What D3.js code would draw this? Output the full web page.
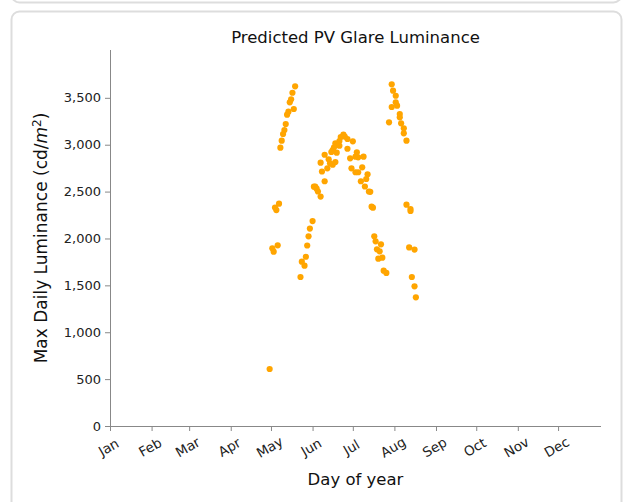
<!DOCTYPE html>
<html>
<head>
<meta charset="utf-8">
<script src="https://cdn.jsdelivr.net/npm/d3@7"></script>
<style>
body { margin: 0; background: #fff; }
svg { display: block; font-family: 'DejaVu Sans', sans-serif; }
</style>
</head>
<body>
<svg id="chart" width="626" height="502"></svg>
<script>
// day of year for each predicted max
let days = [139, 137, 136, 135, 138, 134, 133, 132, 131, 130, 129, 128,
    127, 124, 125, 126, 122, 123, 120,
    143, 146, 144, 147, 148, 149, 150, 152, 153, 154, 155, 156, 158, 161, 159, 158, 163,
    161, 164, 165, 167, 169, 166, 167, 168, 169, 170, 172, 172, 173, 175, 176, 178, 182,
    178, 180, 185, 184, 186, 190, 181, 184, 186, 189, 193, 192, 188, 191, 194, 195, 196,
    197, 198, 199, 203, 200, 202, 201, 204, 205, 207,
    211, 212, 214, 214, 215, 211, 217, 217, 209, 218, 220, 220, 222, 222, 225, 225, 224,
    228, 226, 228, 229]
let luminance = [3623, 3554, 3484, 3452, 3381, 3352, 3320, 3221, 3157, 3114, 3043, 2968,
    2371, 2330, 2303, 1927, 1895, 1859, 608,
    1589, 1710, 1752, 1805, 1925, 2023, 2106, 2186, 2552, 2552, 2531, 2501, 2447, 2610, 2714, 2808, 2748,
    2893, 2844, 2802, 2787, 2815, 2922, 2943, 2972, 3015, 2915, 3039, 2989, 3082, 3107, 3087, 3061, 3036,
    2957, 2855, 2919, 2872, 2865, 2872, 2748, 2706, 2706, 2759, 2684, 2634, 2610, 2554, 2501, 2497, 2339,
    2328, 2023, 1970, 1938, 1884, 1863, 1784, 1795, 1656, 1632,
    3644, 3576, 3522, 3452, 3416, 3402, 3327, 3292, 3239, 3228, 3175, 3121, 3043, 2360, 2314, 2293,
    1904, 1882, 1589, 1490, 1372]

let monthNames = ['Jan', 'Feb', 'Mar', 'Apr', 'May', 'Jun', 'Jul', 'Aug', 'Sep', 'Oct', 'Nov', 'Dec']
let monthStarts = [1, 32, 60, 91, 121, 152, 182, 213, 244, 274, 305, 335]
let yTicks = [0, 500, 1000, 1500, 2000, 2500, 3000, 3500]

let svg = d3.select('#chart')
let axisColor = '#888'
let textColor = '#222'
let dotColor = '#ffa500'

// card frames
svg.append('rect')
    .attr('x', 11.5).attr('y', -30).attr('width', 610).attr('height', 32.5)
    .attr('rx', 8)
    .attr('fill', '#fff').attr('stroke', '#ddd').attr('stroke-width', 2)
svg.append('rect')
    .attr('x', 11.5).attr('y', 11.5).attr('width', 610).attr('height', 520)
    .attr('rx', 8)
    .attr('fill', '#fff').attr('stroke', '#ddd').attr('stroke-width', 2)

let x = d3.scaleLinear()
    .domain([1, 367])
    .range([110, 601])
let y = d3.scaleLinear()
    .domain([0, 4010])
    .range([426, 50])

// y axis
let yAxis = svg.append('g')
    .attr('transform', 'translate(110,0)')
    .call(d3.axisLeft(y).tickValues(yTicks).tickFormat(d3.format(',')).tickSize(5).tickPadding(4))
yAxis.select('.domain').attr('stroke', axisColor).attr('d', 'M0.5,' + y(0) + 'V' + y.range()[1])
yAxis.selectAll('.tick line').attr('stroke', axisColor)
yAxis.selectAll('.tick text')
    .attr('fill', textColor)
    .style('font-size', '13px')
    .style('font-family', 'DejaVu Sans, sans-serif')

// x axis
let xAxis = svg.append('g')
    .attr('transform', 'translate(0,' + y(0) + ')')
    .call(d3.axisBottom(x).tickValues(monthStarts).tickFormat((d, i) => monthNames[i]).tickSize(5))
xAxis.select('.domain').attr('stroke', axisColor).attr('d', 'M' + x.range()[0] + ',0.5H' + x.range()[1])
xAxis.selectAll('.tick line').attr('stroke', axisColor)
xAxis.selectAll('.tick text')
    .attr('fill', textColor)
    .attr('y', 0)
    .attr('dy', null)
    .attr('text-anchor', 'middle')
    .attr('dominant-baseline', 'central')
    .attr('transform', 'translate(-2,21) rotate(-30)')
    .style('font-size', '13.5px')
    .style('font-family', 'DejaVu Sans, sans-serif')

// points
svg.append('g')
    .selectAll('circle')
    .data(days)
    .join('circle')
    .attr('cx', d => x(d))
    .attr('cy', (d, i) => y(luminance[i]))
    .attr('r', 3.1)
    .attr('fill', dotColor)

// title and labels
svg.append('text')
    .attr('x', (x.range()[0] + x.range()[1]) / 2)
    .attr('y', 43)
    .attr('text-anchor', 'middle')
    .attr('fill', '#111')
    .style('font-size', '16.5px')
    .text('Predicted PV Glare Luminance')

svg.append('text')
    .attr('x', (x.range()[0] + x.range()[1]) / 2)
    .attr('y', 485)
    .attr('text-anchor', 'middle')
    .attr('fill', '#111')
    .style('font-size', '16.5px')
    .text('Day of year')

let yLabel = svg.append('text')
    .attr('transform', 'translate(47,' + (y.range()[0] + y.range()[1]) / 2 + ') rotate(-90)')
    .attr('text-anchor', 'middle')
    .attr('fill', '#111')
    .style('font-size', '17px')
yLabel.append('tspan').text('Max Daily Luminance (cd/')
yLabel.append('tspan').style('font-style', 'italic').text('m')
yLabel.append('tspan').attr('dy', -6).style('font-size', '12px').text('2')
yLabel.append('tspan').attr('dy', 6).text(')')
</script>
</body>
</html>
